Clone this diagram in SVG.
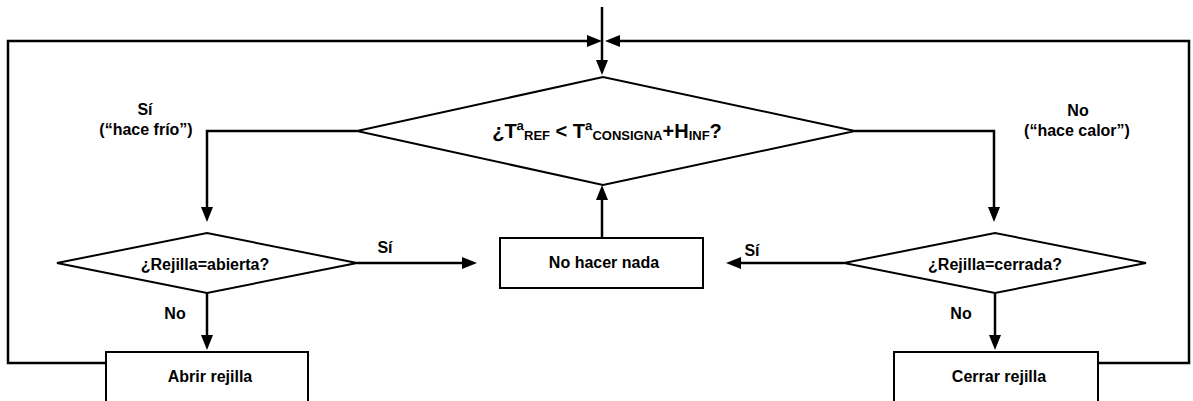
<svg xmlns="http://www.w3.org/2000/svg" width="1193" height="401" viewBox="0 0 1193 401">
<defs>
<style>
.c{fill:none;stroke:#000;stroke-width:2.5;marker-end:url(#ah)}
.n{fill:none;stroke:#000;stroke-width:2.5}
.s{fill:#fff;stroke:#000;stroke-width:2}
text{font-family:"Liberation Sans",Arial,sans-serif;font-weight:bold;font-size:16px;fill:#000}
.m{text-anchor:middle}
</style>
<marker id="ah" viewBox="0 0 15 12" refX="8" refY="6" markerWidth="15" markerHeight="12" markerUnits="userSpaceOnUse" orient="auto">
<path d="M0,0 L15,6 L0,12 z" fill="#000"/>
</marker>
</defs>
<rect width="1193" height="401" fill="#fff"/>
<g id="connectors">
<path class="c" d="M602,7 V68"/>
<path class="c" d="M106,363 H8 V41 H595"/>
<path class="c" d="M1098,363 H1189 V41 H612"/>
<path class="c" d="M357,131 H207 V215"/>
<path class="c" d="M855,131 H994 V215"/>
<path class="c" d="M357,263 H470"/>
<path class="c" d="M844,263 H733"/>
<path class="c" d="M207,293 V343"/>
<path class="c" d="M995,293 V343"/>
<path class="c" d="M602,238 V192"/>
</g>
<g id="decision-main">
<polygon class="s" points="357,131 603,77 855,131 603,185"/>
<text class="m" x="607" y="138" style="font-size:20px">¿Tª<tspan dy="2" style="font-size:13px">REF</tspan><tspan dy="-2"> &lt; Tª</tspan><tspan dy="2" style="font-size:13px">CONSIGNA</tspan><tspan dy="-2">+H</tspan><tspan dy="2" style="font-size:13px">INF</tspan><tspan dy="-2">?</tspan></text>
</g>
<g id="decision-abierta">
<polygon class="s" points="57,263 207,233 357,263 207,293"/>
<text class="m" x="205" y="270">¿Rejilla=abierta?</text>
</g>
<g id="decision-cerrada">
<polygon class="s" points="844,263 995,233 1146,263 995,293"/>
<text class="m" x="995" y="270">¿Rejilla=cerrada?</text>
</g>
<g id="box-nada">
<rect class="s" x="500" y="238" width="203" height="50"/>
<text class="m" x="604" y="268">No hacer nada</text>
</g>
<g id="box-abrir">
<rect class="s" x="106" y="352" width="202" height="54"/>
<text class="m" x="210" y="382">Abrir rejilla</text>
</g>
<g id="box-cerrar">
<rect class="s" x="894" y="352" width="204" height="54"/>
<text class="m" x="999" y="382">Cerrar rejilla</text>
</g>
<g id="labels">
<text class="m" x="145" y="115">Sí</text>
<text class="m" x="146" y="135">(“hace frío”)</text>
<text class="m" x="1078" y="116">No</text>
<text class="m" x="1077" y="136">(“hace calor”)</text>
<text class="m" x="385" y="253">Sí</text>
<text class="m" x="752" y="256">Sí</text>
<text class="m" x="175" y="319">No</text>
<text class="m" x="961" y="319">No</text>
</g>
</svg>
